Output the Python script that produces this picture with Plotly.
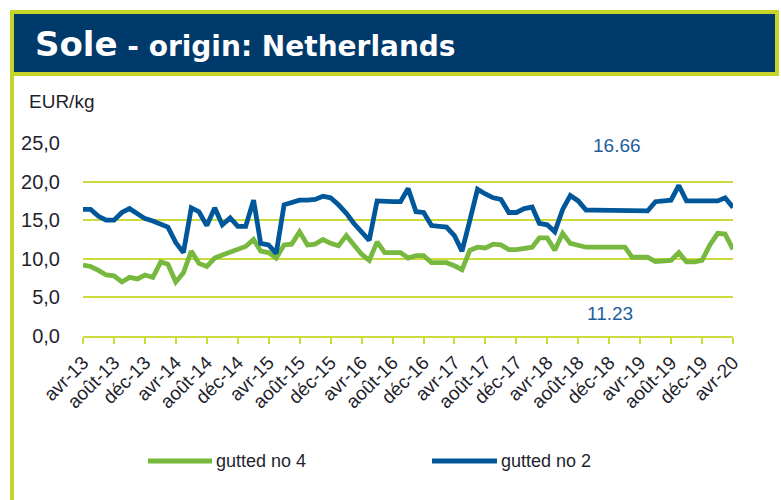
import plotly.graph_objects as go
import pandas as pd

# ---------------- data ----------------
months = pd.date_range("2013-04-01", "2020-04-01", freq="MS")

gutted_no_4 = [
    9.2, 9.0, 8.5, 7.9, 7.8, 7.0, 7.6, 7.4, 7.9, 7.6,
    9.6, 9.3, 7.0, 8.2, 11.0, 9.4, 9.0, 10.1, 10.5, 10.9,
    11.3, 11.6, 12.5, 11.0, 10.8, 10.1, 11.8, 11.9, 13.5, 11.8,
    11.9, 12.5, 12.0, 11.7, 13.0, 11.8, 10.6, 9.8, 12.2, 10.8,
    10.8, 10.8, 10.1, 10.4, 10.4, 9.5, 9.5, 9.5, 9.1, 8.6,
    11.1, 11.5, 11.4, 11.9, 11.8, 11.2, 11.2, 11.3, 11.5, 12.7,
    12.7, 11.1, 13.3, 12.0, 11.8, 11.5, 11.5, 11.5, 11.5, 11.5,
    11.5, 10.2, 10.2, 10.2, 9.65, 9.65, 9.8, 10.8, 9.6, 9.6,
    9.8, 11.8, 13.3, 13.2, 11.23,
]

gutted_no_2 = [
    16.4, 16.4, 15.5, 15.0, 15.0, 16.0, 16.5, 15.8, 15.2, 14.9,
    14.4, 14.1, 12.1, 10.8, 16.6, 16.1, 14.3, 16.6, 14.4, 15.3,
    14.2, 14.2, 17.6, 12.0, 11.8, 10.7, 17.0, 17.3, 17.6, 17.6,
    17.7, 18.1, 17.9, 17.0, 15.9, 14.6, 13.5, 12.4, 17.5, 17.4,
    17.4, 17.4, 19.1, 16.1, 16.0, 14.3, 14.2, 14.1, 13.0, 11.0,
    15.0, 19.0, 18.4, 17.9, 17.7, 16.0, 16.0, 16.5, 16.7, 14.6,
    14.4, 13.5, 16.4, 18.2, 17.5, 16.3, 16.3, 16.3, 16.3, 16.3,
    16.3, 16.2, 16.2, 16.2, 17.4, 17.5, 17.6, 19.5, 17.5, 17.5,
    17.5, 17.5, 17.5, 17.9, 16.66,
]

tick_dates = pd.date_range("2013-04-01", "2020-04-01", freq="4MS")
tick_labels = [
    "avr-13", "août-13", "déc-13", "avr-14", "août-14", "déc-14",
    "avr-15", "août-15", "déc-15", "avr-16", "août-16", "déc-16",
    "avr-17", "août-17", "déc-17", "avr-18", "août-18", "déc-18",
    "avr-19", "août-19", "déc-19", "avr-20",
]

series_names = ["gutted no 4", "gutted no 2"]
last_no_2 = "16.66"
last_no_4 = "11.23"

# ---------------- styling ----------------
W, H = 781, 500
ML, MR, MT, MB = 83, 48, 143, 164
PW, PH = W - ML - MR, H - MT - MB

GREEN = "#77b83f"
BLUE = "#00589b"
FRAME = "#c6d42a"
GRID = "#cbdb3a"
NAVY = "#003a6b"
TXT = "#1f1f2e"


def fx(px):
    return (px - ML) / PW


def fy(py):
    return (H - MB - py) / PH


fig = go.Figure()
fig.add_trace(go.Scatter(x=months, y=gutted_no_4, mode="lines", name=series_names[0],
                         line=dict(color=GREEN, width=4.8), showlegend=False))
fig.add_trace(go.Scatter(x=months, y=gutted_no_2, mode="lines", name=series_names[1],
                         line=dict(color=BLUE, width=4.8), showlegend=False))

shapes = [
    # title bar with frame
    dict(type="rect", xref="paper", yref="paper", x0=fx(12), x1=fx(777), y0=fy(74), y1=fy(12),
         fillcolor=NAVY, line=dict(color=FRAME, width=4), layer="below"),
    # left frame line
    dict(type="line", xref="paper", yref="paper", x0=fx(12), x1=fx(12), y0=fy(74), y1=fy(502),
         line=dict(color=FRAME, width=4)),
    # legend lines
    dict(type="line", xref="paper", yref="paper", x0=fx(148), x1=fx(212), y0=fy(461), y1=fy(461),
         line=dict(color=GREEN, width=5)),
    dict(type="line", xref="paper", yref="paper", x0=fx(432), x1=fx(497), y0=fy(461), y1=fy(461),
         line=dict(color=BLUE, width=5)),
]

annotations = [
    dict(xref="paper", yref="paper", x=fx(33), y=fy(44), xanchor="left", yanchor="middle",
         showarrow=False,
         text="<b><span style='font-size:34px'>Sole</span> - origin: Netherlands</b>",
         font=dict(family="DejaVu Sans", size=28, color="white")),
    dict(xref="paper", yref="paper", x=fx(27), y=fy(102), xanchor="left", yanchor="middle",
         showarrow=False, text="EUR/kg",
         font=dict(family="Liberation Sans", size=19, color=TXT)),
    dict(xref="paper", yref="paper", x=fx(617), y=fy(145), xanchor="center", yanchor="middle",
         showarrow=False, text=last_no_2,
         font=dict(family="Liberation Sans", size=19, color="#1f5d9e")),
    dict(xref="paper", yref="paper", x=fx(610), y=fy(313), xanchor="center", yanchor="middle",
         showarrow=False, text=last_no_4,
         font=dict(family="Liberation Sans", size=19, color="#1f5d9e")),
    dict(xref="paper", yref="paper", x=fx(214), y=fy(461), xanchor="left", yanchor="middle",
         showarrow=False, text=series_names[0],
         font=dict(family="Liberation Sans", size=18, color=TXT)),
    dict(xref="paper", yref="paper", x=fx(499), y=fy(461), xanchor="left", yanchor="middle",
         showarrow=False, text=series_names[1],
         font=dict(family="Liberation Sans", size=18, color=TXT)),
]

fig.update_layout(
    width=W, height=H,
    margin=dict(l=ML, r=MR, t=MT, b=MB, pad=0),
    paper_bgcolor="white", plot_bgcolor="white",
    separators=", ",
    shapes=shapes, annotations=annotations,
    showlegend=False,
    font=dict(family="Liberation Sans", color=TXT),
)

fig.update_xaxes(
    type="date", range=[months[0], months[-1]],
    tickmode="array", tickvals=list(tick_dates), ticktext=tick_labels,
    tickangle=-45, tickfont=dict(size=19, color=TXT),
    showgrid=False, zeroline=False,
    showline=True, linecolor=GRID, linewidth=2,
    ticks="outside", ticklen=6, tickcolor=GRID, tickwidth=2,
)

fig.update_yaxes(
    range=[0, 25], dtick=5, tick0=0, tickformat=".1f",
    tickfont=dict(size=20, color=TXT),
    showgrid=True, gridcolor=GRID, gridwidth=1.5,
    zeroline=False, showline=False,
    ticks="outside", ticklen=18, tickcolor="rgba(0,0,0,0)",
)

fig.write_html(
    "out.html",
    config={"displayModeBar": False},
    post_script="document.body.style.margin='0';document.body.style.overflow='hidden';",
)
